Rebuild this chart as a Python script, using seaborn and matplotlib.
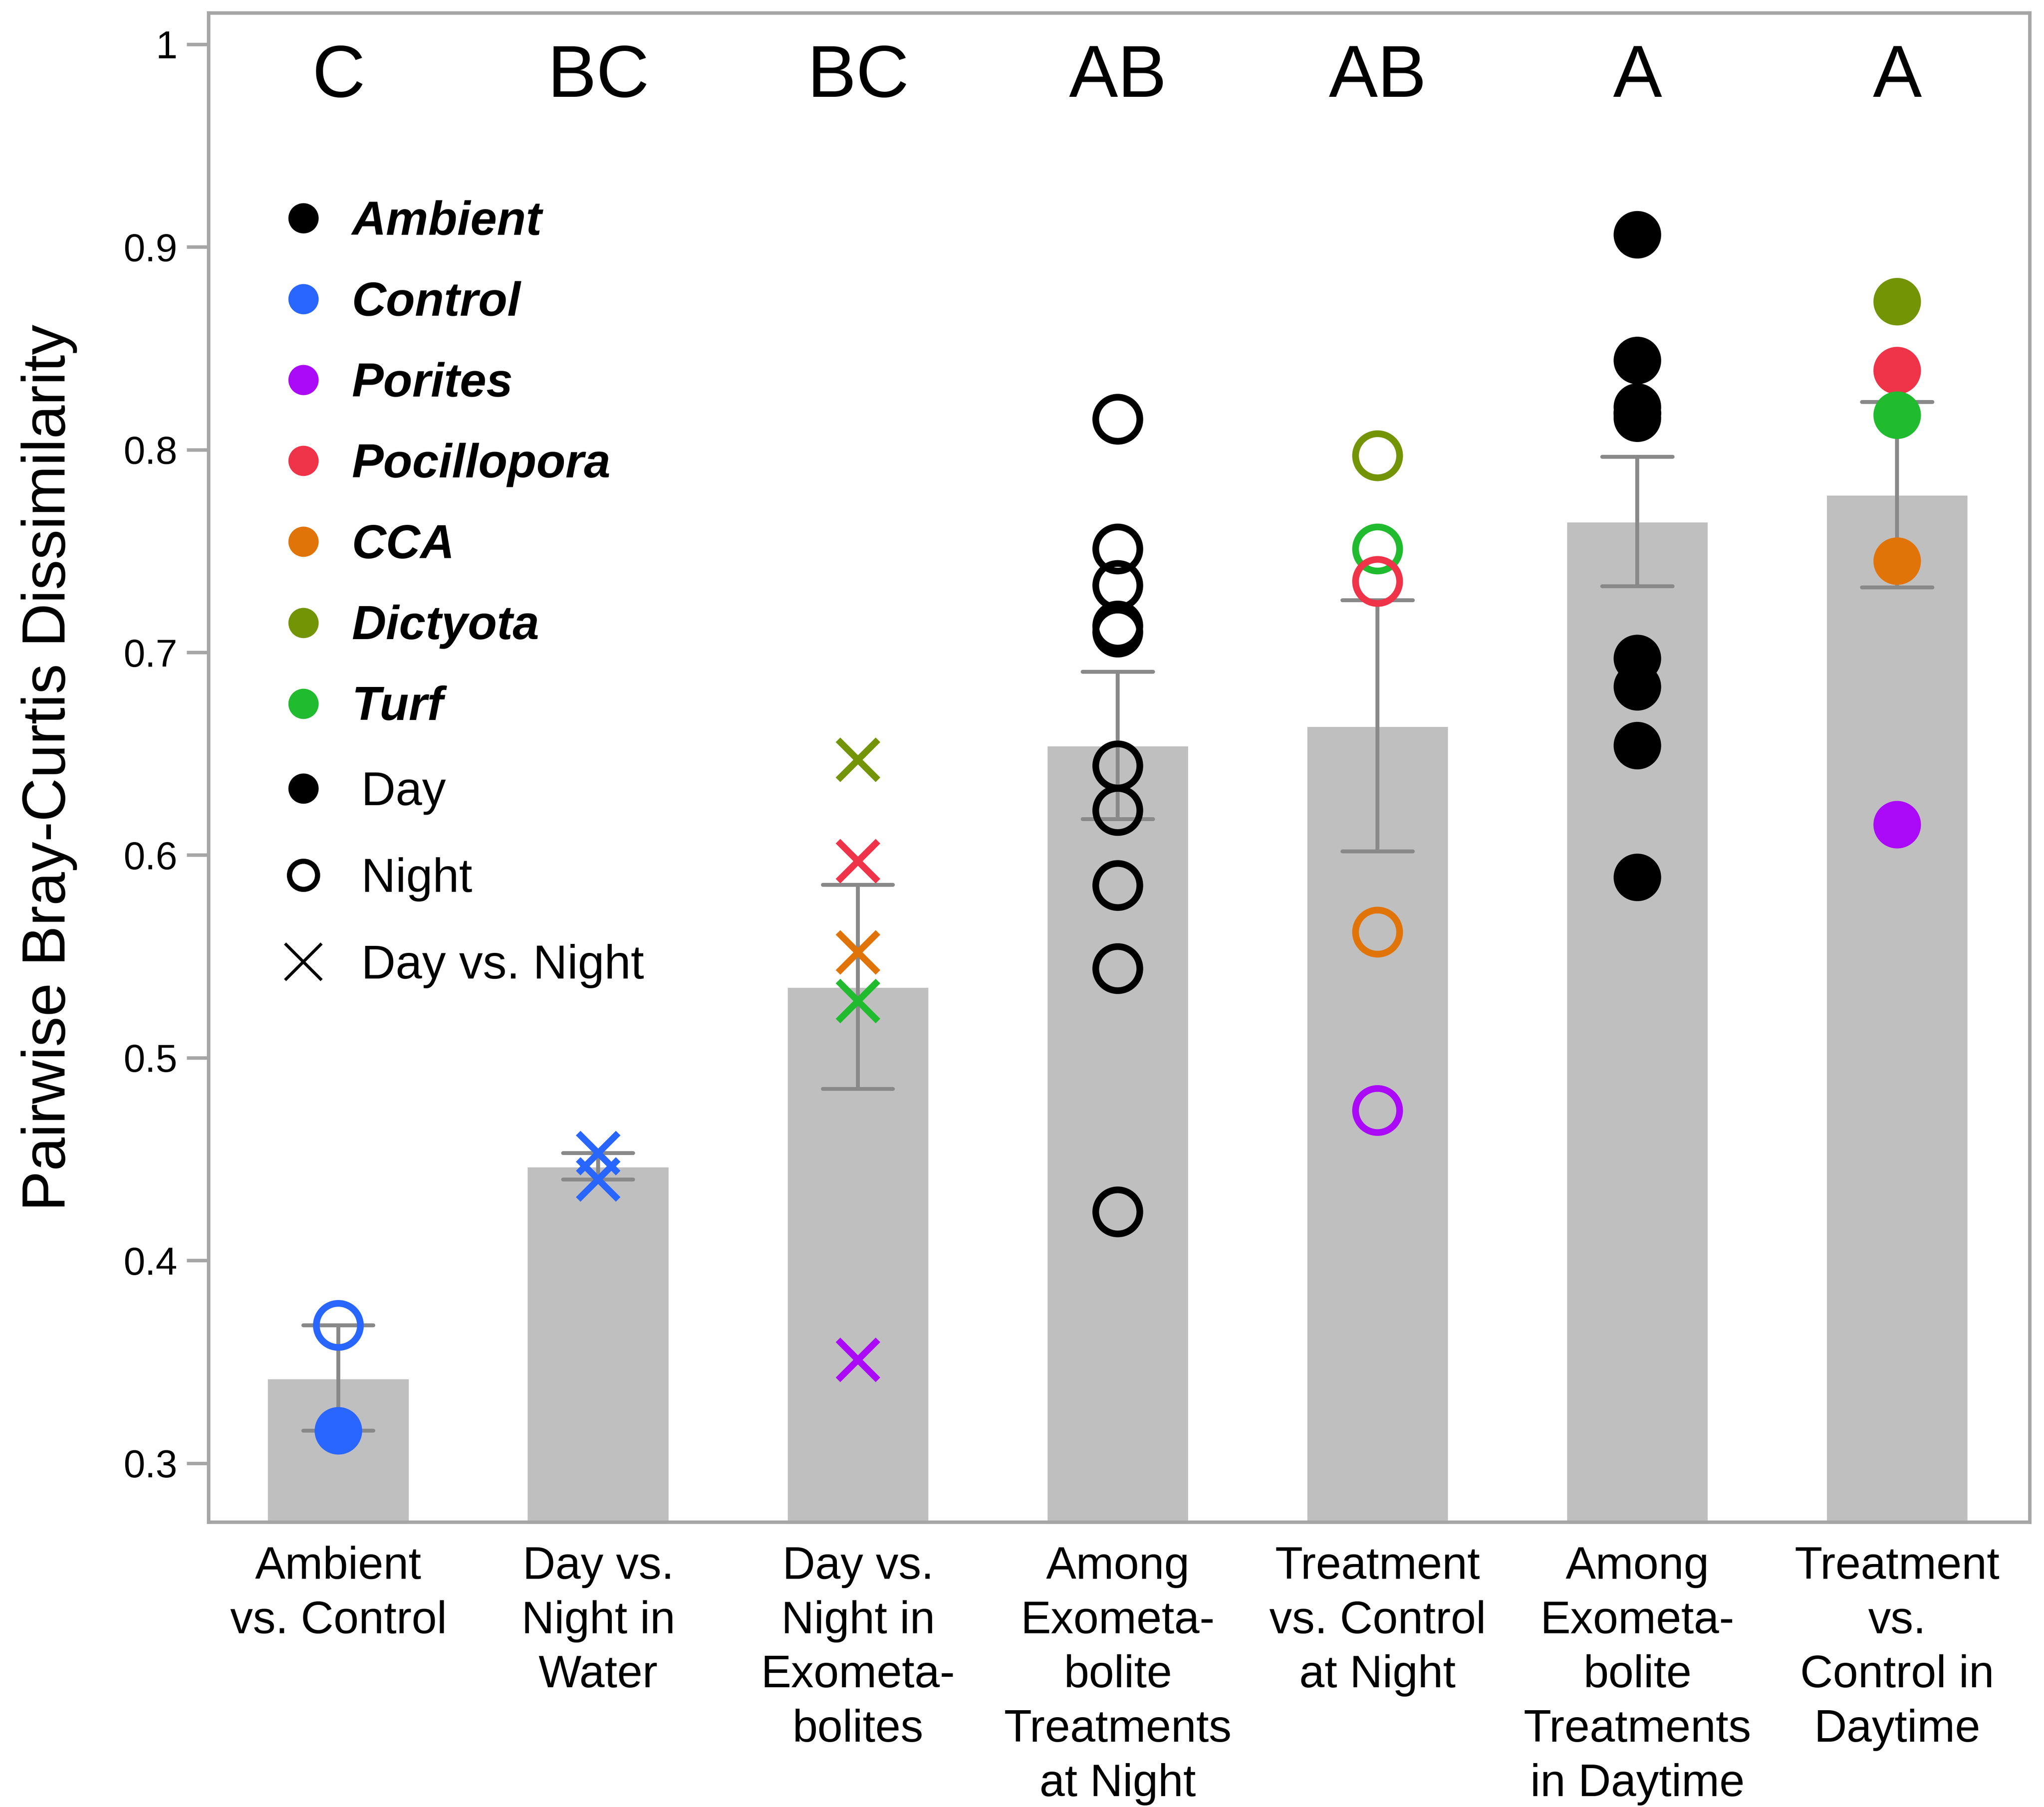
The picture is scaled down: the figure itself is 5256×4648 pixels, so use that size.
import numpy as np
import pandas as pd
import matplotlib
matplotlib.use("Agg")
import matplotlib.pyplot as plt
import seaborn as sns
from matplotlib.lines import Line2D
from matplotlib.font_manager import FontProperties

# ---------------- data ----------------
categories = [
    "Ambient\nvs. Control",
    "Day vs.\nNight in\nWater",
    "Day vs.\nNight in\nExometa-\nbolites",
    "Among\nExometa-\nbolite\nTreatments\nat Night",
    "Treatment\nvs. Control\nat Night",
    "Among\nExometa-\nbolite\nTreatments\nin Daytime",
    "Treatment\nvs.\nControl in\nDaytime",
]
letters = ["C", "BC", "BC", "AB", "AB", "A", "A"]

group_names = ["Ambient", "Control", "Porites", "Pocillopora", "CCA", "Dictyota", "Turf"]
group_colors = ["#000000", "#2966ff", "#aa0af7", "#ef3349", "#e17408", "#739405", "#21bb2f"]
time_names = ["Day", "Night", "Day vs. Night"]

vals_ambient_control = [0.368, 0.316]
grps_ambient_control = ["Control", "Control"]
time_ambient_control = ["Night", "Day"]

vals_dn_water = [0.453, 0.440]
grps_dn_water = ["Control", "Control"]
time_dn_water = ["Day vs. Night", "Day vs. Night"]

vals_dn_exo = [0.647, 0.597, 0.552, 0.528, 0.351]
grps_dn_exo = ["Dictyota", "Pocillopora", "CCA", "Turf", "Porites"]
time_dn_exo = ["Day vs. Night"] * 5

vals_among_night = [0.815, 0.751, 0.733, 0.713, 0.710, 0.644, 0.622, 0.585, 0.544, 0.424]
grps_among_night = ["Ambient"] * 10
time_among_night = ["Night"] * 10

vals_tc_night = [0.797, 0.751, 0.735, 0.562, 0.474]
grps_tc_night = ["Dictyota", "Turf", "Pocillopora", "CCA", "Porites"]
time_tc_night = ["Night"] * 5

vals_among_day = [0.906, 0.844, 0.821, 0.818, 0.818, 0.8155, 0.697, 0.683, 0.654, 0.589]
grps_among_day = ["Ambient"] * 10
time_among_day = ["Day"] * 10

vals_tc_day = [0.873, 0.839, 0.817, 0.745, 0.615]
grps_tc_day = ["Dictyota", "Pocillopora", "Turf", "CCA", "Porites"]
time_tc_day = ["Day"] * 5

ytick_values = [0.3, 0.4, 0.5, 0.6, 0.7, 0.8, 0.9, 1.0]
ytick_labels = ["0.3", "0.4", "0.5", "0.6", "0.7", "0.8", "0.9", "1"]

all_vals = [vals_ambient_control, vals_dn_water, vals_dn_exo, vals_among_night,
            vals_tc_night, vals_among_day, vals_tc_day]
all_grps = [grps_ambient_control, grps_dn_water, grps_dn_exo, grps_among_night,
            grps_tc_night, grps_among_day, grps_tc_day]
all_time = [time_ambient_control, time_dn_water, time_dn_exo, time_among_night,
            time_tc_night, time_among_day, time_tc_day]

rows = []
for cat, vs, gs, ts in zip(categories, all_vals, all_grps, all_time):
    for v, g, t in zip(vs, gs, ts):
        rows.append({"comparison": cat, "value": v, "group": g, "time": t})
df = pd.DataFrame(rows)
palette = dict(zip(group_names, group_colors))

# ---------------- style ----------------
sns.set_style("white")
plt.rcParams["font.family"] = ["Liberation Sans", "DejaVu Sans"]
plt.rcParams["text.color"] = "black"
plt.rcParams["axes.labelcolor"] = "black"
plt.rcParams["xtick.color"] = "black"
plt.rcParams["ytick.color"] = "black"

W, H, DPI = 5256, 4648, 400
fig = plt.figure(figsize=(W / DPI, H / DPI), dpi=DPI)
ax = fig.add_axes([0.102, 0.1577, 0.891, 0.8351])

spine_col = "#a6a6a6"
err_col = "#898989"

sns.barplot(data=df, x="comparison", y="value", order=categories, errorbar="se",
            color="#bfbfbf", saturation=1, width=0.55, capsize=0.27,
            err_kws={"color": err_col, "linewidth": 1.8}, ax=ax)

marker_for = {"Day": "o", "Night": "o", "Day vs. Night": "x"}
size_for = {"Day": 22, "Night": 20.4, "Day vs. Night": 18.5}
for t in time_names:
    sub = df[df["time"] == t]
    n0 = len(ax.collections)
    sns.stripplot(data=sub, x="comparison", y="value", order=categories,
                  hue="group", hue_order=group_names, palette=palette,
                  jitter=False, dodge=False, marker=marker_for[t],
                  size=size_for[t], legend=False, ax=ax, zorder=4)
    for coll in ax.collections[n0:]:
        fc = coll.get_facecolors().copy()
        if t == "Day":
            coll.set_edgecolors("none")
            coll.set_linewidth(0)
        elif t == "Night":
            coll.set_edgecolors(fc)
            coll.set_facecolors("none")
            coll.set_linewidth(3.1)
        else:
            coll.set_edgecolors(fc)
            coll.set_linewidth(3.0)

ax.set_xlim(-0.5, 6.51)
ax.set_ylim(0.271, 1.0154)
ax.set_yticks(ytick_values)
ax.set_yticklabels(ytick_labels)
ax.set_xlabel("")
ax.set_ylabel("Pairwise Bray-Curtis Dissimilarity", fontsize=28, color="black")
ax.yaxis.set_label_coords(-0.072, 0.5)

for s in ax.spines.values():
    s.set_visible(True)
    s.set_color(spine_col)
    s.set_linewidth(1.6)

ax.tick_params(axis="y", length=10, width=1.6, color=spine_col, labelsize=18,
               pad=4.5, labelcolor="black", left=True, direction="out")
ax.tick_params(axis="x", length=0, labelsize=21, pad=11, labelcolor="black")
for lbl in ax.get_xticklabels():
    lbl.set_linespacing(1.36)

for i, letter in enumerate(letters):
    ax.text(i, 0.974, letter, ha="center", va="baseline", fontsize=34, color="black")

# ---------------- legends ----------------
h1 = [Line2D([], [], ls="none", marker="o", markersize=14,
             markerfacecolor=palette[g], markeredgecolor="none") for g in group_names]
leg1 = ax.legend(h1, group_names, loc="upper left", bbox_to_anchor=(0.039, 0.876),
                 frameon=False, borderpad=0, borderaxespad=0, handlelength=1.0,
                 handletextpad=0.52, labelspacing=0.77,
                 prop=FontProperties(family="Liberation Sans", weight="bold",
                                     style="italic", size=22))
ax.add_artist(leg1)

h2 = [Line2D([], [], ls="none", marker="o", markersize=14, markerfacecolor="black",
             markeredgecolor="none"),
      Line2D([], [], ls="none", marker="o", markersize=13, markerfacecolor="none",
             markeredgecolor="black", markeredgewidth=2.4),
      Line2D([], [], ls="none", marker="x", markersize=17, markeredgecolor="black",
             markeredgewidth=1.4)]
leg2 = ax.legend(h2, time_names, loc="upper left", bbox_to_anchor=(0.039, 0.498),
                 frameon=False, borderpad=0, borderaxespad=0, handlelength=1.0,
                 handletextpad=0.72, labelspacing=0.89,
                 prop=FontProperties(family="Liberation Sans", size=22))
for txt in list(leg1.get_texts()) + list(leg2.get_texts()):
    txt.set_color("black")

fig.savefig("out.png", dpi=DPI)
